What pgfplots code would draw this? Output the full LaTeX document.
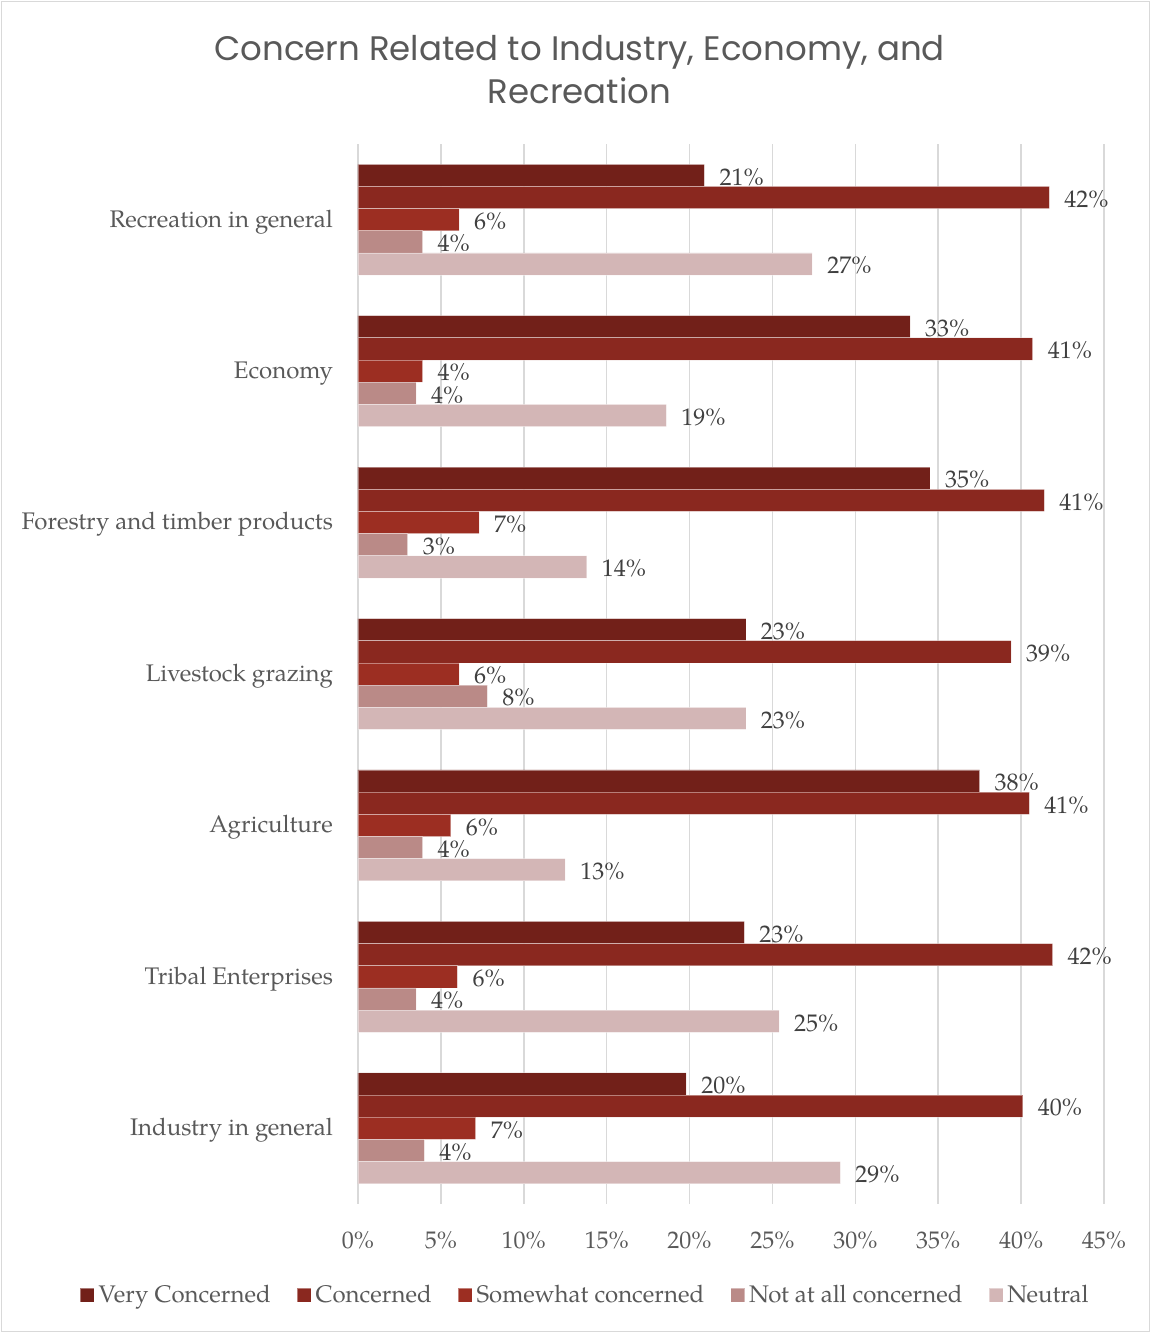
\documentclass[border=0pt]{standalone}
\usepackage{fontspec}
\setmainfont{TeX Gyre Pagella}
\newfontfamily\titlefont{Poppins}
\usepackage{pgfplots}
\pgfplotsset{compat=1.18}
\usepackage{pgfplotstable}
\definecolor{cVC}{HTML}{722019}
\definecolor{cC}{HTML}{8A281F}
\definecolor{cS}{HTML}{9C2E22}
\definecolor{cN}{HTML}{BA8A87}
\definecolor{cNe}{HTML}{D3B6B6}
\definecolor{txt}{HTML}{595959}
\definecolor{labc}{HTML}{404040}
\definecolor{gridc}{HTML}{D9D9D9}

\pgfplotstableread{
y x lab
0 20.9 21
1 33.3 33
2 34.5 35
3 23.4 23
4 37.5 38
5 23.3 23
6 19.8 20
}\tVC
\pgfplotstableread{
y x lab
0 41.7 42
1 40.7 41
2 41.4 41
3 39.4 39
4 40.5 41
5 41.9 42
6 40.1 40
}\tC
\pgfplotstableread{
y x lab
0 6.1 6
1 3.9 4
2 7.3 7
3 6.1 6
4 5.6 6
5 6.0 6
6 7.1 7
}\tS
\pgfplotstableread{
y x lab
0 3.9 4
1 3.5 4
2 3.0 3
3 7.8 8
4 3.9 4
5 3.5 4
6 4.0 4
}\tN
\pgfplotstableread{
y x lab
0 27.4 27
1 18.6 19
2 13.8 14
3 23.4 23
4 12.5 13
5 25.4 25
6 29.1 29
}\tNe

\begin{document}
\begin{tikzpicture}
\path[use as bounding box] (0,0) rectangle (575.5pt,666.5pt);
\draw[gridc, line width=0.75pt] (0.75pt,0.75pt) rectangle (574.75pt,665.75pt);
\node[align=center, text=txt, font=\titlefont\fontsize{17}{21.5}\selectfont] at (289.75pt,631.75pt) {Concern Related to Industry, Economy, and\\Recreation};
\begin{axis}[
  at={(179pt,64.5pt)}, anchor=south west,
  scale only axis, width=373pt, height=530pt,
  xbar,
  legend image code/.code={\fill[#1] (0pt,-3.5pt) rectangle (7pt,3.5pt);},
  xmin=0, xmax=45, ymin=-0.5, ymax=6.5, y dir=reverse,
  bar width=0.1465,
  axis line style={draw=none},
  major tick length=0pt,
  xmajorgrids, grid style={gridc, line width=0.75pt},
  xtick={0,5,...,45},
  /pgf/number format/assume math mode=true,
  xticklabel={\pgfmathprintnumber{\tick}\%},
  xticklabel style={font=\fontsize{12}{14}\selectfont, text=txt, yshift=-10pt},
  ytick={0,...,6},
  yticklabels={Recreation in general, Economy, Forestry and timber products, Livestock grazing, Agriculture, Tribal Enterprises, Industry in general},
  yticklabel style={font=\fontsize{12}{14}\selectfont, text=txt, xshift=-9pt, yshift=-1pt},
  point meta=explicit symbolic,
  nodes near coords={\pgfplotspointmeta\%},
  nodes near coords align={horizontal},
  every node near coord/.append style={anchor=west, font=\fontsize{12}{14}\selectfont, text=labc, xshift=4pt, yshift=-0.75pt},
  legend columns=-1,
  legend style={at={(0.306,-0.0858)}, anchor=center, draw=none, font=\fontsize{12}{14}\selectfont, text=txt, /tikz/every even column/.append style={column sep=11pt}},
]
\addplot[fill=cVC, draw=white, draw opacity=0.4, line width=0.4pt, bar shift=-0.293] table[x=x,y=y,meta=lab]{\tVC};
\addlegendentry{Very Concerned}
\addplot[fill=cC, draw=white, draw opacity=0.4, line width=0.4pt, bar shift=-0.1465] table[x=x,y=y,meta=lab]{\tC};
\addlegendentry{Concerned}
\addplot[fill=cS, draw=white, draw opacity=0.4, line width=0.4pt, bar shift=0] table[x=x,y=y,meta=lab]{\tS};
\addlegendentry{Somewhat concerned}
\addplot[fill=cN, draw=white, draw opacity=0.4, line width=0.4pt, bar shift=0.1465] table[x=x,y=y,meta=lab]{\tN};
\addlegendentry{Not at all concerned}
\addplot[fill=cNe, draw=white, draw opacity=0.4, line width=0.4pt, bar shift=0.293] table[x=x,y=y,meta=lab]{\tNe};
\addlegendentry{Neutral}
\end{axis}
\end{tikzpicture}
\end{document}
